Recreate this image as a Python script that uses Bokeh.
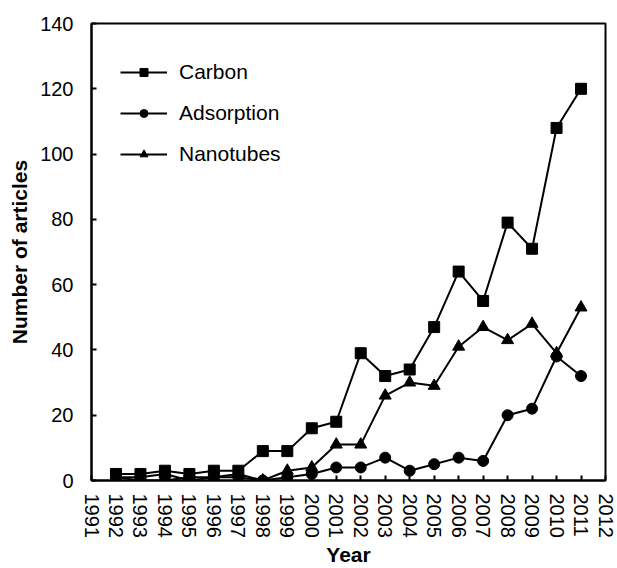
import math
from bokeh.plotting import figure
from bokeh.models import FixedTicker, Legend, LegendItem, Range1d
from bokeh.embed import file_html
from bokeh.resources import INLINE

years = list(range(1992, 2012))
tick_years = list(range(1991, 2013))
carbon = [2, 2, 3, 2, 3, 3, 9, 9, 16, 18, 39, 32, 34, 47, 64, 55, 79, 71, 108, 120]
adsorption = [1, 0, 0, 1, 1, 1, 0, 1, 2, 4, 4, 7, 3, 5, 7, 6, 20, 22, 38, 32]
nanotubes = [1, 1, 2, 0, 1, 2, 0, 3, 4, 11, 11, 26, 30, 29, 41, 47, 43, 48, 39, 53]
y_ticks = [0, 20, 40, 60, 80, 100, 120, 140]

FONT = "Liberation Sans"

p = figure(width=617, height=568, output_backend="svg", toolbar_location=None,
           x_range=Range1d(1991, 2012), y_range=Range1d(0, 140),
           min_border_left=91, min_border_right=12, min_border_top=23, min_border_bottom=86)

p.xgrid.visible = False
p.ygrid.visible = False
p.outline_line_color = "black"
p.outline_line_width = 2
p.background_fill_color = "white"
p.border_fill_color = "white"

for ax in (p.xaxis[0], p.yaxis[0]):
    ax.axis_line_width = 2
    ax.axis_line_color = "black"
    ax.major_tick_in = 5
    ax.major_tick_out = 0
    ax.major_tick_line_width = 2
    ax.minor_tick_line_color = None
    ax.major_label_text_font = FONT
    ax.major_label_text_font_size = "20px"
    ax.major_label_text_color = "black"
    ax.axis_label_text_font = FONT
    ax.axis_label_text_font_size = "21px"
    ax.axis_label_text_font_style = "bold"
    ax.axis_label_text_color = "black"

p.xaxis.ticker = FixedTicker(ticks=tick_years)
p.xaxis.major_label_orientation = -math.pi / 2
p.xaxis.major_label_standoff = 13
p.xaxis.axis_label = "Year"
p.xaxis.axis_label_standoff = 2

p.yaxis.ticker = FixedTicker(ticks=y_ticks)
p.yaxis.major_label_standoff = 18
p.yaxis.axis_label = "Number of articles"
p.yaxis.axis_label_standoff = 6

l1 = p.line(years, carbon, line_color="black", line_width=2)
s1 = p.scatter(years, carbon, marker="square", size=11, fill_color="black", line_color="black")
l2 = p.line(years, adsorption, line_color="black", line_width=2)
s2 = p.scatter(years, adsorption, marker="circle", size=11, fill_color="black", line_color="black")
l3 = p.line(years, nanotubes, line_color="black", line_width=2)
s3 = p.scatter(years, nanotubes, marker="triangle", size=12, fill_color="black", line_color="black")

legend = Legend(items=[
    LegendItem(label="Carbon", renderers=[l1, s1]),
    LegendItem(label="Adsorption", renderers=[l2, s2]),
    LegendItem(label="Nanotubes", renderers=[l3, s3]),
], location=(29, 314))
legend.border_line_color = None
legend.background_fill_alpha = 0
legend.padding = 0
legend.margin = 0
legend.glyph_width = 47
legend.glyph_height = 20
legend.label_height = 20
legend.spacing = 17
legend.label_standoff = 12
legend.label_text_font = FONT
legend.label_text_font_size = "21px"
legend.label_text_color = "black"
p.add_layout(legend)

open("out.html", "w").write(file_html(p, INLINE))
